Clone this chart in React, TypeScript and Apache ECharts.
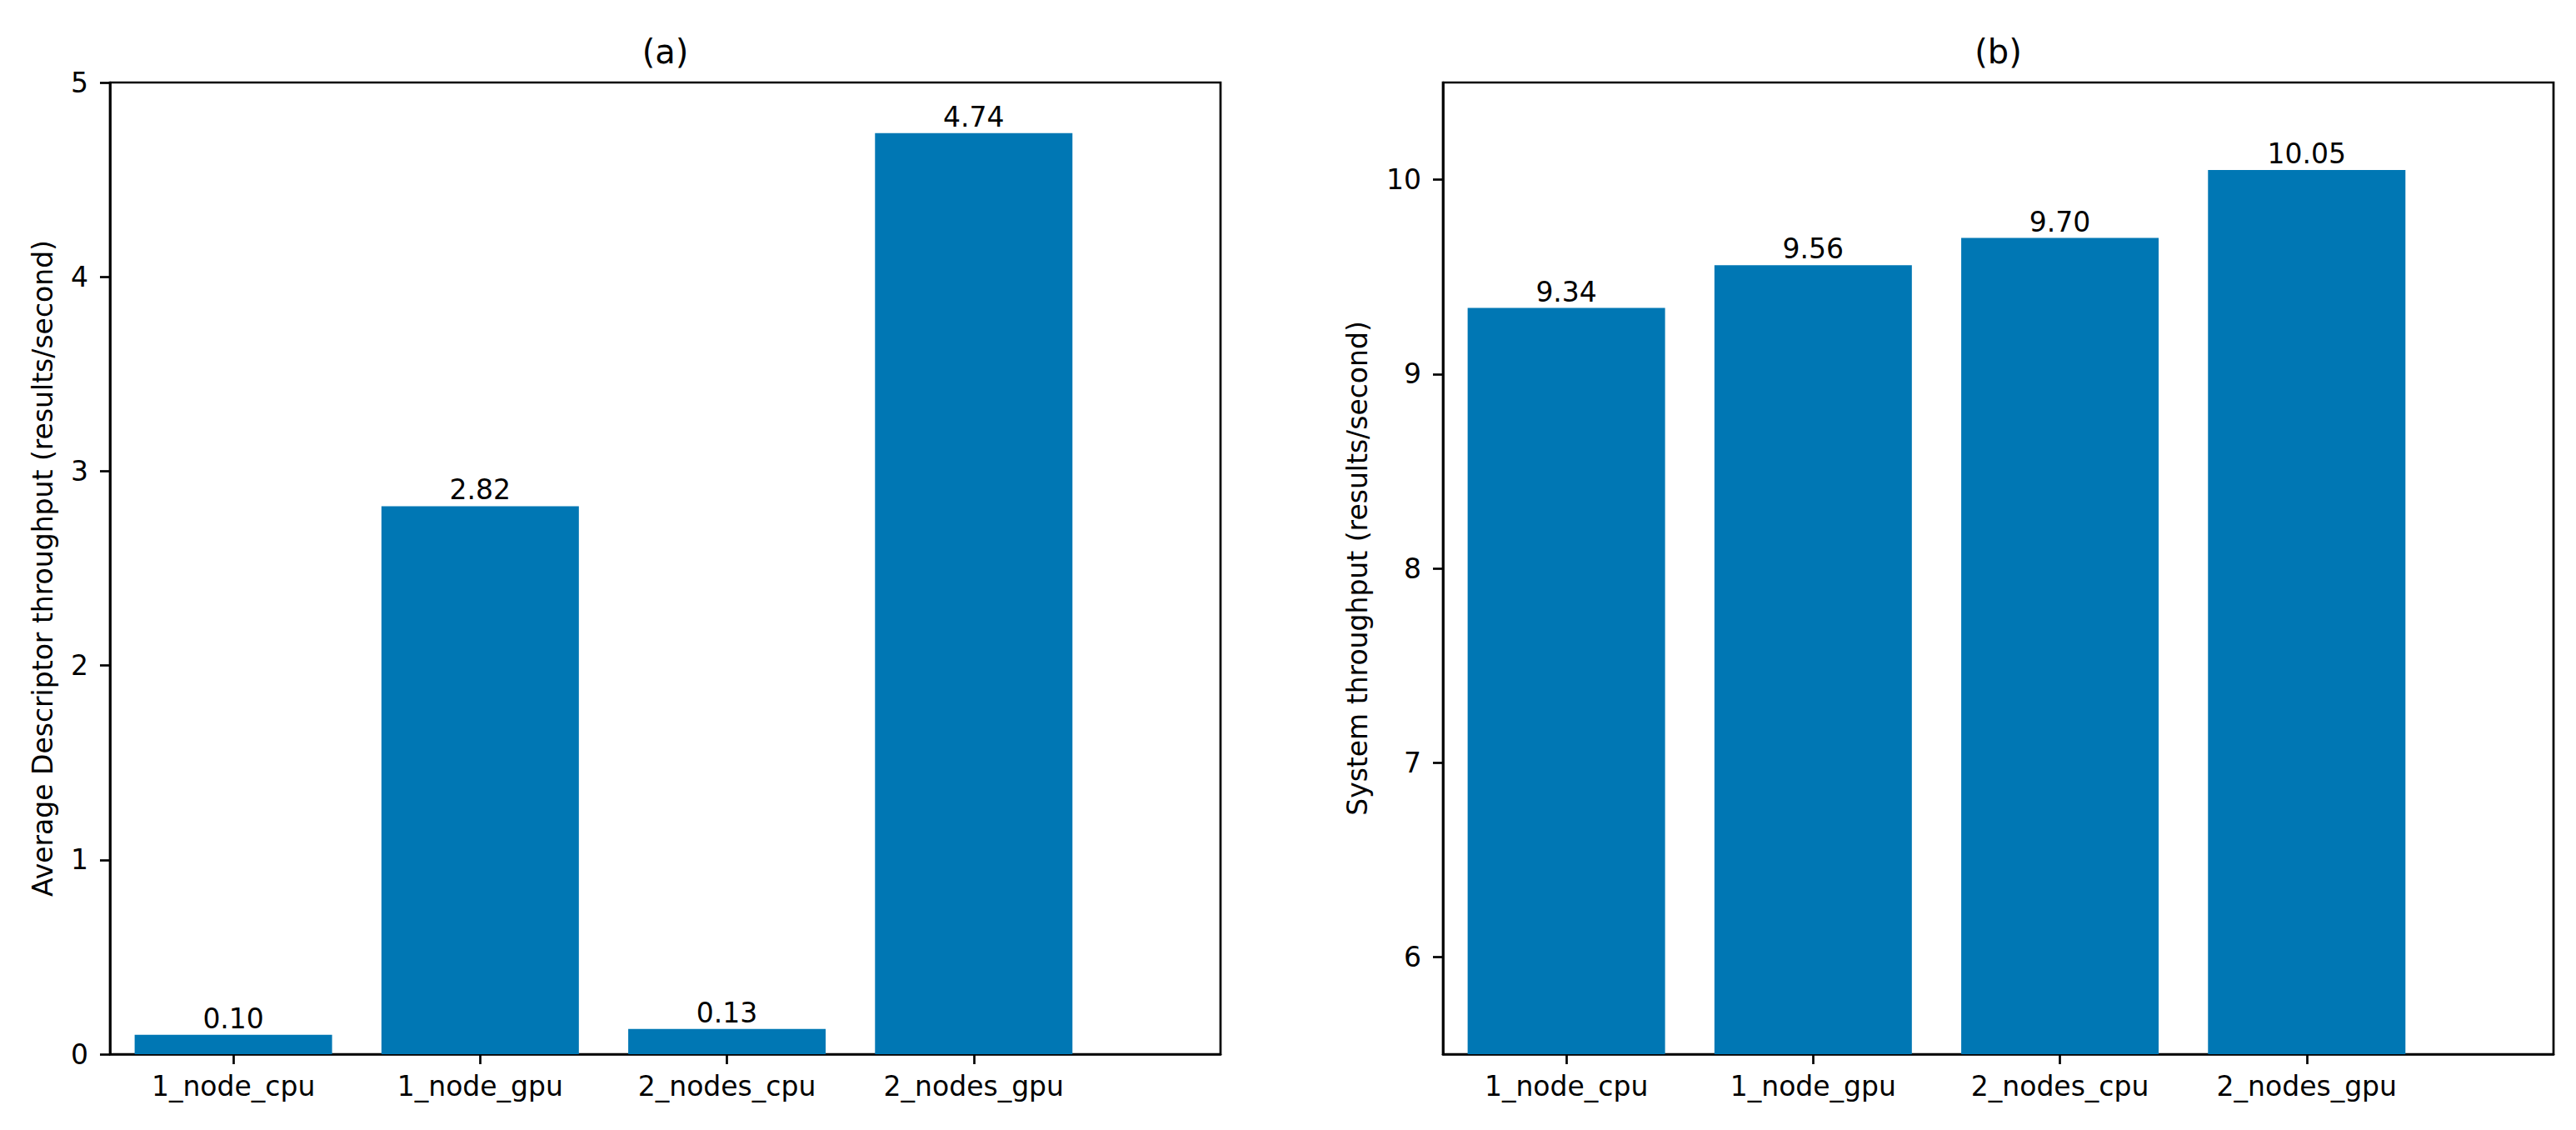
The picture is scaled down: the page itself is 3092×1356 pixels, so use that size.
import React, { useEffect, useRef } from "react";
import * as echarts from "echarts";

const categories = ["1_node_cpu", "1_node_gpu", "2_nodes_cpu", "2_nodes_gpu"];
const descriptorThroughput = [0.1, 2.82, 0.13, 4.74];
const systemThroughput = [9.34, 9.56, 9.7, 10.05];
const ticksA = [0, 1, 2, 3, 4, 5];
const ticksB = [6, 7, 8, 9, 10];
const catPositions = [0, 1, 2, 3];
const titles = ["(a)", "(b)"];
const yNames = [
  "Average Descriptor throughput (results/second)",
  "System throughput (results/second)",
];

const FONT = "DejaVu Sans";
const BLUE = "#0077b4";
const LW = 2.7;

const X_MIN = -0.5;
const X_MAX = 4.0;

export default function App() {
  const ref = useRef<HTMLDivElement>(null);
  useEffect(() => {
    if (!ref.current) return;
    const chart = echarts.init(ref.current, null, { renderer: "svg" });
    const W = 1333;
    const H = 1166;
    const grids = [
      { left: 132, top: 99, width: W, height: H },
      { left: 1732, top: 99, width: W, height: H },
    ];
    const barW = (0.8 * W) / (X_MAX - X_MIN);
    const textStyle = { color: "#000", fontFamily: FONT, fontSize: 33 };

    const xAxisFor = (i: number) => ({
      type: "value",
      gridIndex: i,
      min: X_MIN,
      max: X_MAX,
      splitLine: { show: false },
      axisLine: { show: true, onZero: false, lineStyle: { color: "#000", width: LW } },
      axisTick: {
        show: true,
        length: 12,
        lineStyle: { color: "#000", width: LW },
        customValues: catPositions,
      },
      axisLabel: {
        ...textStyle,
        margin: 22,
        customValues: catPositions,
        formatter: (v: number) => categories[Math.round(v)] ?? "",
      },
    });

    const yAxisFor = (i: number, min: number, max: number, ticks: number[], gap: number) => ({
      type: "value",
      gridIndex: i,
      min,
      max,
      name: yNames[i],
      nameLocation: "middle",
      nameGap: gap,
      nameTextStyle: { ...textStyle },
      splitLine: { show: false },
      axisLine: { show: true, onZero: false, lineStyle: { color: "#000", width: LW } },
      axisTick: {
        show: true,
        length: 12,
        lineStyle: { color: "#000", width: LW },
        customValues: ticks,
      },
      axisLabel: {
        ...textStyle,
        margin: 26,
        customValues: ticks,
        formatter: (v: number) => String(v),
      },
    });

    const seriesFor = (i: number, vals: number[]) => ({
      type: "bar",
      xAxisIndex: i,
      yAxisIndex: i,
      barWidth: barW,
      data: vals.map((v, k) => [catPositions[k], v]),
      itemStyle: { color: BLUE },
      label: {
        show: true,
        position: "top",
        distance: 3,
        ...textStyle,
        formatter: (p: any) => Number(p.value[1]).toFixed(2),
      },
    });

    chart.setOption({
      animation: false,
      backgroundColor: "#fff",
      grid: grids.map((g) => ({
        ...g,
        show: true,
        backgroundColor: "transparent",
        borderColor: "#000",
        borderWidth: LW,
        containLabel: false,
      })),
      xAxis: [xAxisFor(0), xAxisFor(1)],
      yAxis: [
        yAxisFor(0, 0, 5, ticksA, 64),
        yAxisFor(1, 5.5, 10.5, ticksB, 86),
      ],
      series: [seriesFor(0, descriptorThroughput), seriesFor(1, systemThroughput)],
      graphic: grids.map((g, i) => ({
        type: "text",
        x: g.left + g.width / 2,
        y: 62,
        style: {
          text: titles[i],
          fill: "#000",
          font: `40px "${FONT}"`,
          textAlign: "center",
          textVerticalAlign: "middle",
        },
      })),
    });
    return () => chart.dispose();
  }, []);
  return (
    <div
      ref={ref}
      style={{ position: "absolute", left: 0, top: 0, width: 3092, height: 1356 }}
    />
  );
}
